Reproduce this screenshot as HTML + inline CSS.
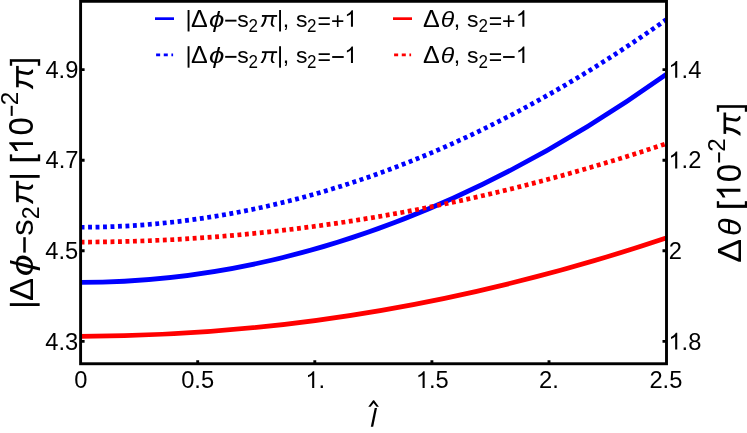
<!DOCTYPE html>
<html><head><meta charset="utf-8"><title>plot</title>
<style>
html,body{margin:0;padding:0;background:#fff;}
svg{display:block;transform:translateZ(0);will-change:transform;}
text{font-family:"Liberation Sans",sans-serif;fill:#000;}
.i{font-style:italic;}
</style></head><body>
<svg width="747" height="433" viewBox="0 0 747 433">
<rect x="0" y="0" width="747" height="433" fill="#fff"/>
<defs><clipPath id="cp"><rect x="80.6" y="1.3" width="585.9" height="362.45"/></clipPath>
<path id="one" d="M763,0 H583 V-1147 Q518,-1085 412.5,-1023 Q307,-961 223,-930 V-1104 Q374,-1175 487,-1276 Q600,-1377 647,-1472 H763 Z"/>
<clipPath id="pc"><rect x="-200" y="-700" width="1200" height="703"/></clipPath>
<g id="pi" clip-path="url(#pc)"><rect x="52" y="-512" width="648" height="80"/><path d="M516,-455 C505,-330 462,-190 470,-125 C476,-75 510,-35 575,8" fill="none" stroke="#000" stroke-width="84"/><path d="M214,-455 C212,-300 170,-160 20,30" fill="none" stroke="#000" stroke-width="86"/></g>
</defs>
<g clip-path="url(#cp)" fill="none" stroke-width="4.7">
<path d="M80.60,282.40 Q373.35,282.40 666.10,74.40" stroke="#0000ff"/>
<path d="M80.60,227.25 Q373.35,227.25 666.10,19.75" stroke="#0000ff" stroke-dasharray="3.9 3.58"/>
<path d="M80.60,336.30 Q373.35,336.30 666.10,238.05" stroke="#ff0000"/>
<path d="M80.60,242.05 Q373.35,242.05 666.10,143.68" stroke="#ff0000" stroke-dasharray="3.9 3.58"/>
</g>
<rect x="80.6" y="1.3" width="585.9" height="362.45" fill="none" stroke="#000" stroke-width="2.9"/>
<path d="M197.70,363.75 V360.15 M314.80,363.75 V360.15 M431.90,363.75 V360.15 M549.00,363.75 V360.15 M80.6,69.6 H84.60 M666.5,69.6 H662.50 M80.6,160.2 H84.60 M666.5,160.2 H662.50 M80.6,250.8 H84.60 M666.5,250.8 H662.50 M80.6,341.4 H84.60 M666.5,341.4 H662.50" stroke="#000" stroke-width="2.9" fill="none"/>
<text transform="translate(45.38,77.8)" font-size="23.7">4</text>
<text transform="translate(58.56,77.8)" font-size="23.7">.</text>
<text transform="translate(65.14,77.8)" font-size="23.7">9</text>
<text transform="translate(45.45,168.4)" font-size="23.7">4</text>
<text transform="translate(58.63,168.4)" font-size="23.7">.</text>
<text transform="translate(65.21,168.4)" font-size="23.7">7</text>
<text transform="translate(45.25,259)" font-size="23.7">4</text>
<text transform="translate(58.43,259)" font-size="23.7">.</text>
<text transform="translate(65.01,259)" font-size="23.7">5</text>
<text transform="translate(45.3,349.6)" font-size="23.7">4</text>
<text transform="translate(58.48,349.6)" font-size="23.7">.</text>
<text transform="translate(65.06,349.6)" font-size="23.7">3</text>
<use href="#one" transform="translate(668.42,77.8) scale(0.01157,0.01146)"/>
<text transform="translate(681.6,77.8)" font-size="23.7">.</text>
<text transform="translate(688.18,77.8)" font-size="23.7">4</text>
<use href="#one" transform="translate(668.42,168.4) scale(0.01157,0.01146)"/>
<text transform="translate(681.6,168.4)" font-size="23.7">.</text>
<text transform="translate(688.18,168.4)" font-size="23.7">2</text>
<text transform="translate(668.81,259)" font-size="23.7">2</text>
<use href="#one" transform="translate(668.42,349.6) scale(0.01157,0.01146)"/>
<text transform="translate(681.6,349.6)" font-size="23.7">.</text>
<text transform="translate(688.18,349.6)" font-size="23.7">8</text>
<text transform="translate(74.26,388)" font-size="23.7">0</text>
<text transform="translate(181.16,388)" font-size="23.7">0</text>
<text transform="translate(194.34,388)" font-size="23.7">.</text>
<text transform="translate(200.93,388)" font-size="23.7">5</text>
<use href="#one" transform="translate(305.41,388) scale(0.01157,0.01146)"/>
<text transform="translate(318.59,388)" font-size="23.7">.</text>
<use href="#one" transform="translate(415.83,388) scale(0.01157,0.01146)"/>
<text transform="translate(429.01,388)" font-size="23.7">.</text>
<text transform="translate(435.6,388)" font-size="23.7">5</text>
<text transform="translate(539.05,388)" font-size="23.7">2</text>
<text transform="translate(552.23,388)" font-size="23.7">.</text>
<text transform="translate(649.43,388)" font-size="23.7">2</text>
<text transform="translate(662.61,388)" font-size="23.7">.</text>
<text transform="translate(669.19,388)" font-size="23.7">5</text>
<path d="M155,18.65 H174" stroke="#0000ff" stroke-width="2.7" fill="none"/>
<path d="M156.1,54.85 H173.1" stroke="#0000ff" stroke-width="2.6" stroke-dasharray="4.05 3.6" fill="none"/>
<path d="M393,18.65 H412" stroke="#ff0000" stroke-width="2.7" fill="none"/>
<path d="M394.1,54.85 H411.1" stroke="#ff0000" stroke-width="2.6" stroke-dasharray="4.05 3.6" fill="none"/>
<rect x="187.6" y="10.01" width="1.9" height="21.46"/>
<text transform="translate(191.05,26.8) scale(1.09,1.04)" font-size="23">Δ</text>
<text transform="translate(209.11,26.8) scale(1.2,1.0)" font-size="23" class="i">ϕ</text>
<rect x="225.2" y="19.7" width="11.3" height="1.9"/>
<text transform="translate(237.36,26.8) scale(1.0,0.95)" font-size="23">s</text>
<text transform="translate(248.45,31.55) scale(1.0,1.04)" font-size="17">2</text>
<use href="#pi" transform="translate(260.7,26.8) scale(0.02346,0.02300)"/>
<rect x="279.1" y="10.01" width="1.9" height="21.46"/>
<text transform="translate(282.63,26.8)" font-size="23">,</text>
<text transform="translate(295.96,26.8) scale(1.0,0.95)" font-size="23">s</text>
<text transform="translate(307.05,31.55) scale(1.0,1.04)" font-size="17">2</text>
<text transform="translate(317.48,28.6)" font-size="23">=</text>
<text transform="translate(331.08,28.6)" font-size="23">+</text>
<use href="#one" transform="translate(344.4,26.8) scale(0.01123,0.01123)"/>
<rect x="187.6" y="46.21" width="1.9" height="21.46"/>
<text transform="translate(191.05,63) scale(1.09,1.04)" font-size="23">Δ</text>
<text transform="translate(209.11,63) scale(1.2,1.0)" font-size="23" class="i">ϕ</text>
<rect x="225.2" y="55.9" width="11.3" height="1.9"/>
<text transform="translate(237.36,63) scale(1.0,0.95)" font-size="23">s</text>
<text transform="translate(248.45,67.75) scale(1.0,1.04)" font-size="17">2</text>
<use href="#pi" transform="translate(260.7,63) scale(0.02346,0.02300)"/>
<rect x="279.1" y="46.21" width="1.9" height="21.46"/>
<text transform="translate(282.63,63)" font-size="23">,</text>
<text transform="translate(295.96,63) scale(1.0,0.95)" font-size="23">s</text>
<text transform="translate(307.05,67.75) scale(1.0,1.04)" font-size="17">2</text>
<text transform="translate(317.48,64.8)" font-size="23">=</text>
<rect x="332.2" y="56.05" width="11.5" height="1.9"/>
<use href="#one" transform="translate(344.4,63) scale(0.01123,0.01123)"/>
<text transform="translate(423.05,26.8) scale(1.09,1.04)" font-size="23">Δ</text>
<text transform="translate(440.87,27.1) scale(1.08,1.0)" font-size="23" class="i">θ</text>
<text transform="translate(453.73,26.8)" font-size="23">,</text>
<text transform="translate(467.06,26.8) scale(1.0,0.95)" font-size="23">s</text>
<text transform="translate(478.45,31.55) scale(1.0,1.04)" font-size="17">2</text>
<text transform="translate(488.68,28.6)" font-size="23">=</text>
<text transform="translate(501.98,28.6)" font-size="23">+</text>
<use href="#one" transform="translate(515.8,26.8) scale(0.01123,0.01123)"/>
<text transform="translate(423.05,63) scale(1.09,1.04)" font-size="23">Δ</text>
<text transform="translate(440.87,63.3) scale(1.08,1.0)" font-size="23" class="i">θ</text>
<text transform="translate(453.73,63)" font-size="23">,</text>
<text transform="translate(467.06,63) scale(1.0,0.95)" font-size="23">s</text>
<text transform="translate(478.45,67.75) scale(1.0,1.04)" font-size="17">2</text>
<text transform="translate(488.68,64.8)" font-size="23">=</text>
<rect x="503.1" y="56.05" width="11.5" height="1.9"/>
<use href="#one" transform="translate(515.8,63) scale(0.01123,0.01123)"/>
<rect x="9.8" y="303.2" width="29.86" height="2.8"/>
<text transform="translate(33,300.93) rotate(-90) scale(1.05,1.03)" font-size="33">Δ</text>
<text transform="translate(33.4,276.18) rotate(-90) scale(1.2,0.97)" font-size="33" class="i">ϕ</text>
<rect x="23.25" y="237.2" width="2.5" height="15.4"/>
<text transform="translate(33,235.72) rotate(-90) scale(1.0,0.95)" font-size="33">s</text>
<text transform="translate(39.1,219.26) rotate(-90) scale(1.0,1.04)" font-size="23">2</text>
<use href="#pi" transform="translate(33,203.9) rotate(-90) scale(0.03300,0.03300)"/>
<rect x="9.8" y="175" width="29.86" height="2.8"/>
<text stroke="#000" stroke-width="0.35" transform="translate(32.7,163.28) rotate(-90)" font-size="32">[</text>
<use href="#one" transform="translate(33,154.49) rotate(-90) scale(0.01611,0.01611)"/>
<text transform="translate(33.4,135.59) rotate(-90) scale(1.0,1.05)" font-size="33">0</text>
<rect x="10.7" y="105.8" width="2" height="10.1"/>
<text transform="translate(17.7,105.23) rotate(-90) scale(1.06,1.04)" font-size="23">2</text>
<use href="#pi" transform="translate(33,89) rotate(-90) scale(0.03300,0.03300)"/>
<text stroke="#000" stroke-width="0.35" transform="translate(32.7,65.85) rotate(-90)" font-size="32">]</text>
<text transform="translate(741,262.66) rotate(-90) scale(1.077,1.03)" font-size="33">Δ</text>
<text transform="translate(741,236.09) rotate(-90) scale(0.975,0.965)" font-size="33" class="i">θ</text>
<text stroke="#000" stroke-width="0.35" transform="translate(740.1,209.88) rotate(-90)" font-size="32">[</text>
<use href="#one" transform="translate(740.4,201.09) rotate(-90) scale(0.01611,0.01611)"/>
<text transform="translate(740.8,182.19) rotate(-90) scale(1.0,1.05)" font-size="33">0</text>
<rect x="718.1" y="152.4" width="2" height="10.1"/>
<text transform="translate(725.1,151.83) rotate(-90) scale(1.06,1.04)" font-size="23">2</text>
<use href="#pi" transform="translate(740.4,135.6) rotate(-90) scale(0.03300,0.03300)"/>
<text stroke="#000" stroke-width="0.35" transform="translate(740.1,111.85) rotate(-90)" font-size="32">]</text>
<path d="M374.7,407.9 L377.0,407.9 L373.2,426.7 L370.8,426.7 Z" fill="#000"/>
<path d="M368.3,406.7 L373.1,400.3 L374.1,400.3 L378.9,406.7 L376.6,406.7 L373.6,402.9 L370.6,406.7 Z" fill="#000"/>
</svg></body></html>
